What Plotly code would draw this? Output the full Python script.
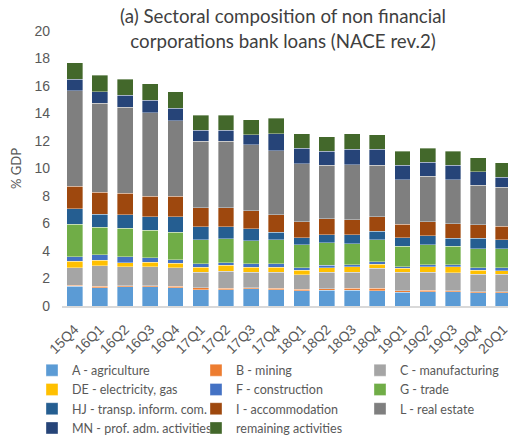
import plotly.graph_objects as go

periodos = ['15Q4', '16Q1', '16Q2', '16Q3', '16Q4', '17Q1', '17Q2', '17Q3', '17Q4',
            '18Q1', '18Q2', '18Q3', '18Q4', '19Q1', '19Q2', '19Q3', '19Q4', '20Q1']

agricultura = [1.43, 1.33, 1.40, 1.40, 1.33, 1.18, 1.18, 1.26, 1.18, 1.11, 1.16, 1.16, 1.11, 1.01, 1.04, 1.04, 0.97, 0.97]
mineria = [0.09, 0.10, 0.07, 0.07, 0.10, 0.15, 0.10, 0.07, 0.10, 0.12, 0.10, 0.12, 0.17, 0.10, 0.10, 0.07, 0.07, 0.07]
manufactura = [1.28, 1.49, 1.40, 1.40, 1.37, 1.11, 1.26, 1.11, 1.16, 1.04, 1.20, 1.18, 1.45, 1.33, 1.32, 1.31, 1.28, 1.28]
electricidad = [0.44, 0.39, 0.29, 0.32, 0.32, 0.39, 0.43, 0.39, 0.39, 0.34, 0.32, 0.39, 0.31, 0.31, 0.39, 0.43, 0.29, 0.26]
construccion = [0.36, 0.41, 0.41, 0.31, 0.24, 0.24, 0.17, 0.24, 0.24, 0.19, 0.17, 0.14, 0.17, 0.12, 0.14, 0.14, 0.17, 0.20]
comercio = [2.34, 2.00, 2.08, 2.01, 2.00, 1.74, 1.74, 1.66, 1.74, 1.64, 1.64, 1.55, 1.60, 1.48, 1.45, 1.36, 1.40, 1.40]
transporte = [1.14, 0.97, 0.99, 0.99, 1.14, 0.96, 0.89, 0.90, 0.55, 0.53, 0.58, 0.63, 0.62, 0.60, 0.66, 0.58, 0.75, 0.63]
alojamiento = [1.64, 1.59, 1.57, 1.49, 1.49, 1.36, 1.36, 1.30, 1.26, 1.16, 1.18, 1.11, 1.07, 0.99, 1.03, 1.06, 0.99, 0.99]
inmobiliario = [6.93, 6.45, 6.26, 6.07, 5.49, 4.85, 4.85, 4.78, 4.68, 4.23, 3.87, 4.01, 3.72, 3.26, 3.29, 3.21, 2.85, 2.85]
profesional = [0.85, 0.87, 0.84, 0.89, 0.89, 0.80, 0.80, 0.73, 1.24, 1.11, 1.03, 1.11, 1.18, 1.04, 1.04, 1.04, 0.99, 0.72]
restantes = [1.20, 1.19, 1.19, 1.21, 1.21, 1.11, 1.11, 1.11, 1.11, 1.07, 1.07, 1.14, 1.06, 1.01, 1.01, 1.01, 1.01, 1.04]

series = [
    ('A - agriculture', agricultura, '#5B9BD5'),
    ('B - mining', mineria, '#ED7D31'),
    ('C - manufacturing', manufactura, '#A5A5A5'),
    ('DE - electricity, gas', electricidad, '#FFC000'),
    ('F - construction', construccion, '#4472C4'),
    ('G - trade', comercio, '#70AD47'),
    ('HJ - transp. inform. com.', transporte, '#255E91'),
    ('I - accommodation', alojamiento, '#9E480E'),
    ('L - real estate', inmobiliario, '#7F7F7F'),
    ('MN - prof. adm. activities', profesional, '#264478'),
    ('remaining activities', restantes, '#43682B'),
]

fig = go.Figure()
for nome, valores, cor in series:
    fig.add_trace(go.Bar(
        x=periodos,
        y=valores,
        name=nome,
        marker=dict(color=cor, line=dict(color='rgba(255,255,255,0.6)', width=0.6)),
    ))

# a pagina tem 8px de margem no body, por isso tudo vai 8px para cima/esquerda
fig.update_layout(
    width=516,
    height=441,
    barmode='stack',
    bargap=0.37,
    plot_bgcolor='white',
    paper_bgcolor='white',
    margin=dict(l=54, r=8, t=23, b=142),
    font=dict(family='Liberation Sans', size=14, color='#595959'),
    title=dict(
        text='(a) Sectoral composition of non financial<br>corporations bank loans (NACE rev.2)',
        x=0.533, xanchor='center', xref='container',
        y=0.965, yanchor='top', yref='container',
        font=dict(family='Lato', size=18.7, color='#404040'),
    ),
    legend=dict(
        orientation='h',
        x=-0.057, xref='paper', xanchor='left',
        y=-0.176, yref='paper', yanchor='top',
        traceorder='normal',
        entrywidth=119, entrywidthmode='pixels',
        font=dict(family='Lato', size=12.5, color='#595959'),
        itemwidth=30,
        tracegroupgap=0,
    ),
)

fig.update_xaxes(
    tickangle=-45,
    showline=True, linecolor='#D9D9D9', linewidth=1.5,
    ticks='',
    ticklabelstandoff=8,
    tickfont=dict(family='Liberation Sans', size=14, color='#595959'),
)
fig.update_yaxes(
    range=[0, 20],
    dtick=2,
    showgrid=False,
    zeroline=False,
    automargin=False,
    ticklabelstandoff=11,
    title=dict(text='% GDP', font=dict(family='Lato', size=13, color='#595959'), standoff=14),
    tickfont=dict(family='Liberation Sans', size=14, color='#595959'),
)

fig.write_html('out.html')
